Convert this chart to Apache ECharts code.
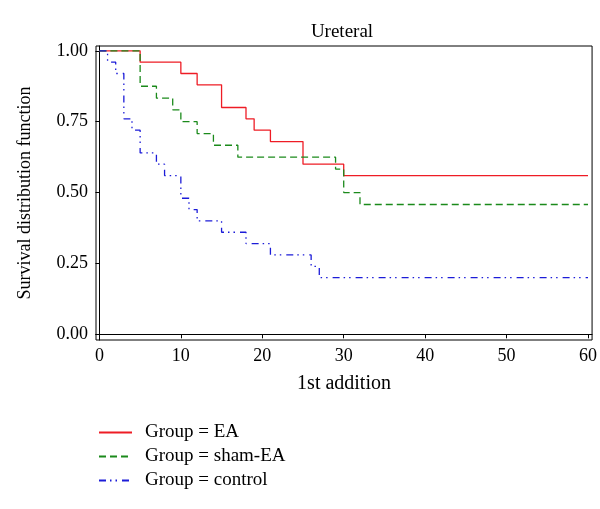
<!DOCTYPE html>
<html>
<head>
<meta charset="utf-8" />
<title>Ureteral</title>
<script src="https://cdn.jsdelivr.net/npm/echarts@6/dist/echarts.min.js"></script>
<style>
  html, body { margin: 0; padding: 0; background: #fff; }
  #chart { width: 600px; height: 509px; }
</style>
</head>
<body>
<div id="chart"></div>
<script>
// Kaplan-Meier steps (time, survival)
const eaTime = [0, 5, 10, 12, 15, 18, 19, 21, 25, 30, 60];
const eaSurv = [1, 0.96, 0.92, 0.88, 0.8, 0.76, 0.72, 0.68, 0.6, 0.56, 0.56];

const shamTime = [0, 5, 7, 9, 10, 12, 14, 17, 29, 30, 32, 60];
const shamSurv = [1, 0.875, 0.833, 0.792, 0.75, 0.708, 0.667, 0.625, 0.583, 0.5, 0.458, 0.458];

const ctrlTime = [0, 1, 2, 3, 4, 5, 7, 8, 10, 11, 12, 15, 18, 21, 26, 27, 60];
const ctrlSurv = [1, 0.96, 0.92, 0.76, 0.72, 0.64, 0.6, 0.56, 0.48, 0.44, 0.4, 0.36, 0.32, 0.28, 0.24, 0.2, 0.2];

const groupNames = ["Group = EA", "Group = sham-EA", "Group = control"];
const xTicks = [0, 10, 20, 30, 40, 50, 60];
const yTicks = [0, 0.25, 0.5, 0.75, 1];

const font = "'Liberation Serif', 'DejaVu Serif', serif";

const pairs = (xs, ys) => xs.map((x, i) => [x, ys[i]]);

const chart = echarts.init(document.getElementById("chart"), null, { renderer: "canvas" });

function stepSeries(name, data, color, type) {
  return {
    name,
    type: "line",
    step: "end",
    symbol: "none",
    data,
    lineStyle: { color, width: 1.3, type },
    itemStyle: { color },
    animation: false,
  };
}

chart.setOption({
  animation: false,
  title: {
    text: "Ureteral",
    left: 337,
    textAlign: "center",
    top: 18,
    textStyle: { fontFamily: font, fontSize: 19, fontWeight: "normal", color: "#000" },
  },
  grid: {
    left: 96,
    right: 1,
    top: 46,
    bottom: 169,
    show: true,
    borderColor: "#000",
    borderWidth: 1,
  },
  xAxis: {
    type: "value",
    min: -0.42,
    max: 60.5,
    name: "1st addition",
    nameLocation: "middle",
    nameGap: 34,
    nameTextStyle: { fontFamily: font, fontSize: 20, color: "#000" },
    axisLine: { lineStyle: { color: "#000", width: 1 } },
    axisTick: { length: 4, lineStyle: { color: "#000" }, customValues: xTicks },
    axisLabel: { fontFamily: font, fontSize: 18, color: "#000", margin: 7, customValues: xTicks },
    splitLine: { show: false },
  },
  yAxis: {
    type: "value",
    min: -0.02,
    max: 1.017,
    name: "Survival distribution function",
    nameLocation: "middle",
    nameGap: 62,
    nameTextStyle: { fontFamily: font, fontSize: 18, color: "#000" },
    axisLine: { show: true, lineStyle: { color: "#000", width: 1 } },
    axisTick: { show: true, length: 4, lineStyle: { color: "#000" }, customValues: yTicks },
    axisLabel: {
      fontFamily: font,
      fontSize: 18,
      color: "#000",
      margin: 8,
      customValues: yTicks,
      formatter: (v) => v.toFixed(2),
    },
    splitLine: { show: false },
  },
  legend: {
    orient: "vertical",
    left: 93,
    top: 418,
    itemWidth: 33,
    itemHeight: 14,
    itemGap: 5,
    itemStyle: { opacity: 0 },
    textStyle: { fontFamily: font, fontSize: 19, color: "#000", padding: [0, 0, 0, 8] },
    data: groupNames,
  },
  series: [
    stepSeries(groupNames[0], pairs(eaTime, eaSurv), "#ee1c25", "solid"),
    stepSeries(groupNames[1], pairs(shamTime, shamSurv), "#1b8a1b", [7, 4]),
    stepSeries(groupNames[2], pairs(ctrlTime, ctrlSurv), "#1c1cd8", [7, 4, 1.5, 4, 1.5, 5]),
  ],
});
</script>
</body>
</html>
